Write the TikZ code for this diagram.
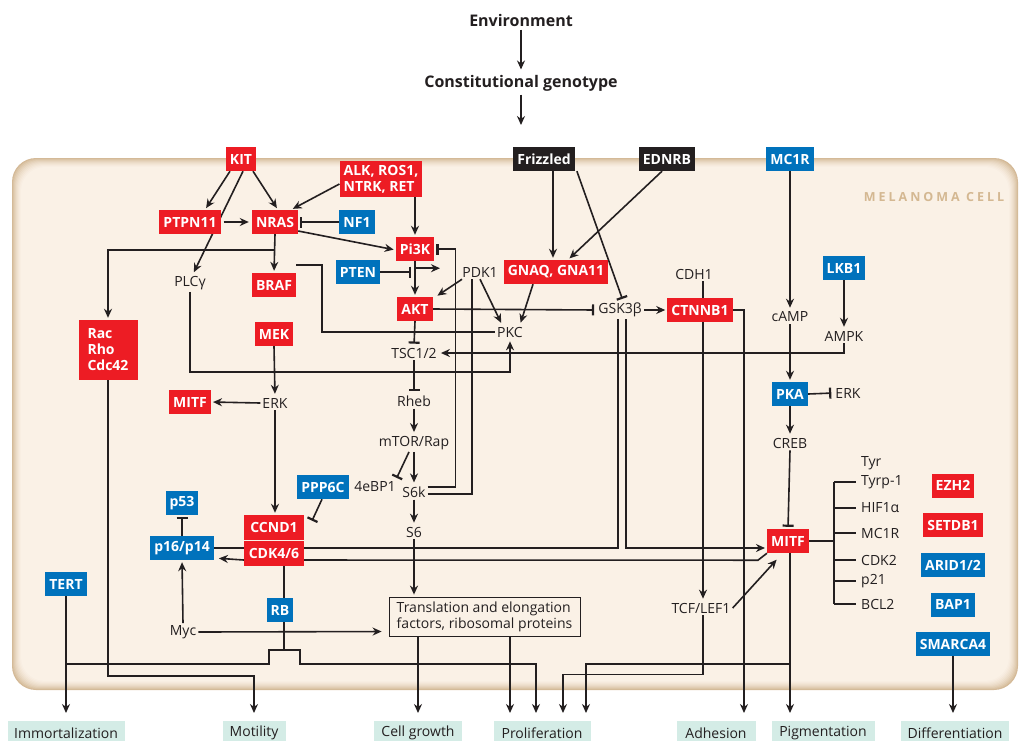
\documentclass[tikz,border=0pt]{standalone}
\usepackage{fontspec}
\setmainfont{Open Sans}
\newfontfamily\spacedfont[LetterSpace=24]{Open Sans}
\usepackage{tikz}
\usetikzlibrary{arrows.meta,positioning,calc,backgrounds}

\definecolor{genered}{RGB}{237,28,36}
\definecolor{geneblue}{RGB}{0,114,188}
\definecolor{geneblack}{RGB}{35,31,32}
\definecolor{inkgray}{RGB}{35,31,32}
\definecolor{cellbeige}{RGB}{250,241,230}
\definecolor{cellrim}{RGB}{212,186,152}
\definecolor{celltext}{RGB}{212,184,146}
\definecolor{outcome}{RGB}{212,236,230}

\begin{document}
\begin{tikzpicture}[x=1pt,y=-1pt,
  every node/.style={font=\fontsize{14}{16}\selectfont, text=inkgray},
  gene/.style={font=\bfseries\fontsize{14}{16}\selectfont, text=white, minimum height=24pt, inner xsep=4pt, inner ysep=2pt},
  redgene/.style={gene, fill=genered},
  bluegene/.style={gene, fill=geneblue},
  blackgene/.style={gene, fill=geneblack},
  plain/.style={inner sep=2pt},
  target/.style={plain, anchor=west},
  fate/.style={fill=outcome, minimum height=24pt, inner xsep=4pt, anchor=north},
  title/.style={font=\bfseries\fontsize{16}{19}\selectfont},
  link/.style={line width=1.6pt, draw=inkgray},
  arr/.style={link, -{Stealth[length=9pt,width=8pt]}, shorten >=2pt},
  inh/.style={link, -{Bar[width=11pt,line width=2.2pt]}, shorten >=2pt},
  tofate/.style={shorten >=8pt},
]
\useasboundingbox (0,0) rectangle (1021,740);

% top
\node[title] (env) at (521,20) {Environment};
\node[title] (geno) at (521,83) {Constitutional genotype};
\coordinate (cellentry) at (521,127);

% receptors and RAS / PI3K branch
\node[redgene] (kit) at (241,159) {KIT};
\node[redgene, align=left, minimum height=36pt] (alk) at (381,179) {ALK, ROS1,\\NTRK, RET};
\node[redgene] (ptpn) at (190,222) {PTPN11};
\node[redgene] (nras) at (275,222) {NRAS};
\node[bluegene] (nf1) at (357,222) {NF1};
\node[redgene] (pi3k) at (415,249) {Pi3K};
\node[bluegene] (pten) at (358,272) {PTEN};
\node[plain] (pdk1) at (480,272) {PDK1};
\node[redgene] (gnaq) at (556,272) {GNAQ, GNA11};
\node[plain] (plc) at (190,283) {PLCγ};
\node[redgene] (braf) at (274,285) {BRAF};
\node[redgene] (akt) at (415,309) {AKT};
\node[plain] (pkc) at (510,332) {PKC};
\node[plain] (gsk) at (620,310) {GSK3β};
\node[redgene] (ctnnb) at (700,310) {CTNNB1};
\node[plain] (cdh) at (694,274) {CDH1};
\node[redgene] (mek) at (274,334) {MEK};
\node[redgene, align=left, minimum width=59pt, minimum height=60pt] (rac) at (108,350) {Rac\\Rho\\Cdc42};
\node[plain] (tsc) at (414,353) {TSC1/2};
\node[redgene] (mitfl) at (190,402) {MITF};
\node[plain] (erkl) at (275,403) {ERK};
\node[plain] (rheb) at (414,401) {Rheb};
\node[plain] (mtor) at (414,443) {mTOR/Rap};
\node[plain] (ebp) at (375,487) {4eBP1};
\node[plain] (s6k) at (414,492) {S6k};
\node[plain] (s6) at (414,532) {S6};
\node[bluegene] (ppp) at (323,487) {PPP6C};
\node[bluegene] (p53) at (182,503) {p53};
\node[bluegene] (p16) at (182,548) {p16/p14};
\node[redgene, minimum width=60pt, minimum height=25pt] (ccnd) at (274,527.5) {CCND1};
\node[redgene, minimum width=60pt, minimum height=25pt] (cdk) at (274,553.5) {CDK4/6};
\node[bluegene] (tert) at (66,584) {TERT};
\node[bluegene] (rb) at (280,610) {RB};
\node[plain] (myc) at (183,632) {Myc};
\node[draw=inkgray, line width=0.8pt, align=left, minimum width=191pt, minimum height=39pt, inner sep=3pt] (trans) at (484.5,616.5) {Translation and elongation\\factors, ribosomal proteins};

% WNT / MC1R branch
\node[blackgene] (friz) at (544,159) {Frizzled};
\node[blackgene] (ednrb) at (667,159) {EDNRB};
\node[bluegene] (mc1r) at (790,159) {MC1R};
\node[bluegene] (lkb) at (844,268) {LKB1};
\node[plain] (camp) at (790,317) {cAMP};
\node[plain] (ampk) at (844,336) {AMPK};
\node[bluegene] (pka) at (790,394) {PKA};
\node[plain] (erkr) at (848,393) {ERK};
\node[plain] (creb) at (790,443) {CREB};
\node[redgene] (mitfr) at (788,541) {MITF};
\node[plain] (tcf) at (701,608) {TCF/LEF1};

% MITF targets
\node[target] (tyr) at (859,463) {Tyr};
\node[target] (tyrp) at (859,482) {Tyrp-1};
\node[target] (hif) at (859,508) {HIF1α};
\node[target] (mcr) at (859,533) {MC1R};
\node[target] (cdkt) at (859,560) {CDK2};
\node[target] (pt) at (859,581) {p21};
\node[target] (bcl) at (859,604) {BCL2};

% chromatin regulators
\node[redgene] (ezh) at (953,485.5) {EZH2};
\node[redgene] (setdb) at (953,525) {SETDB1};
\node[bluegene] (arid) at (953,565) {ARID1/2};
\node[bluegene] (bap) at (953,604.5) {BAP1};
\node[bluegene] (smarca) at (953,644) {SMARCA4};

\node[text=celltext, font=\spacedfont\bfseries\fontsize{12.5}{14}\selectfont] (celllabel) at (934,197) {MELANOMA CELL};

% outcomes
\node[fate, minimum width=117pt] (imm) at (66,721) {Immortalization};
\node[fate, minimum width=63pt] (mot) at (254,721) {Motility};
\node[fate, minimum width=88pt] (cg) at (418,721) {Cell growth};
\node[fate, minimum width=97pt] (prol) at (542,721) {Proliferation};
\node[fate, minimum width=79pt] (adh) at (716,721) {Adhesion};
\node[fate, minimum width=103pt] (pig) at (823,721) {Pigmentation};
\node[fate, minimum width=108pt] (diff) at (955,721) {Differentiation};

\begin{scope}[on background layer]
  % cell body with a soft rim
  \foreach \i/\c in {0/100,1/82,2/66,3/52,4/40,5/29,6/20,7/12,8/5,9/0}
    \fill[cellrim!\c!cellbeige, rounded corners=24pt] (12+\i,158+\i) rectangle (1018-\i,690-\i);

  \draw[arr] (env) -- (geno);
  \draw[arr] (geno) -- (cellentry);

  % KIT and RAS
  \draw[arr] ([xshift=-11pt]kit.south) -- ([xshift=15pt]ptpn.north);
  \draw[arr] ([xshift=12pt]kit.south) -- ([xshift=3pt]nras.north);
  \draw[arr] ([xshift=2pt]kit.south) -- ([xshift=3pt]plc.north);
  \draw[arr, shorten >=3pt, shorten <=3pt] (ptpn.east) -- (nras.west);
  \draw[arr] ([yshift=-5pt]alk.west) -- ([xshift=16pt]nras.north);
  \draw[inh] (nf1.west) -- (nras.east);
  \draw[arr] (nras.south) -- (braf.north);
  \draw[arr] ([yshift=-9pt]nras.east) -- ([yshift=-1pt]pi3k.west);
  \draw[arr] ([yshift=-16pt]nras.south) -| (rac.north);
  \draw[arr] (alk.south -| pi3k.north) -- (pi3k.north);

  % PI3K / AKT / mTOR
  \draw[inh] (pten.east) -- ++(33,0);
  \draw[arr] (pi3k.south) -- (akt.north);
  \draw[arr] ([yshift=-7pt]pi3k.south) -- ++(27,0);
  \draw[arr] ([xshift=-18pt]pdk1.south) -- ([xshift=3pt]akt.north east);
  \draw[arr] (pdk1.south) -- ([xshift=-8pt]pkc.north);
  \draw[arr] ([xshift=-23pt]gnaq.south) -- ([xshift=10pt]pkc.north);
  \coordinate (pdkfoot) at ([xshift=-8pt]pdk1.south);
  \draw[link] ([yshift=-2pt]s6k.east) -| (pdkfoot);
  \draw[inh] ([yshift=5pt]s6k.east) -| ([xshift=21pt]pi3k.east) -- (pi3k.east);
  \draw[inh] (akt.south) -- (tsc.north);
  \draw[inh] (akt.east) -- (gsk.west);
  \coordinate (brafhook) at ([xshift=22pt,yshift=8pt]braf.north);
  \draw[link] (brafhook) -- ++(26,0) |- (pkc.west);
  \draw[arr] (plc.south) -- ++(0,80) -| (pkc.south);
  \draw[arr] (ampk.south) |- (tsc.east);
  \draw[inh] (tsc.south) -- (rheb.north);
  \draw[arr] (rheb.south) -- (mtor.north);
  \draw[arr] (mtor.south) -- (s6k.north);
  \draw[inh] ([xshift=-5pt]mtor.south) -- ([xshift=-2pt]ebp.north east);
  \draw[arr] (s6k.south) -- (s6.north);
  \draw[arr] (s6.south) -- (s6.south |- trans.north);

  % MAPK and cell cycle
  \draw[arr] (mek.south) -- (erkl.north);
  \draw[arr] (erkl.west) -- (mitfl.east);
  \draw[arr] (erkl.south) -- (erkl.south |- ccnd.north);
  \draw[inh] ([xshift=-1pt]ppp.south) -- ([xshift=7pt,yshift=5pt]ccnd.east);
  \draw[inh] (p16.north) -- (p53.south);
  \draw[arr] (myc.north) -- (p16.south);
  \draw[link] ([xshift=10pt]cdk.south) -- ([xshift=4pt]rb.north);
  \draw[arr, shorten >=7pt] (myc.east) -- ([yshift=-15pt]trans.west);

  % GSK3B lines
  \draw[link] ([xshift=-2pt]gsk.south) |- (p16.east);
  \draw[arr] ([xshift=6pt]gsk.south) |- ([yshift=-7pt]mitfr.west);
  \draw[arr] (mitfr.south west) -- ++(-9,7) -- ([yshift=-6.5pt]cdk.west) -- ([xshift=3pt,yshift=2pt]p16.south east);

  % WNT
  \draw[arr] ([xshift=9pt]friz.south) -- ([xshift=-3pt]gnaq.north);
  \draw[inh] ([xshift=2pt]friz.south east) -- ([xshift=3pt]gsk.north);
  \draw[arr] ([xshift=-5pt]ednrb.south) -- ([xshift=12pt]gnaq.north);
  \draw[arr] (gsk.east) -- (ctnnb.west);
  \draw[arr] ([xshift=9pt]cdh.south) -- ([xshift=9pt]cdh.south |- tcf.north);
  \draw[arr, tofate] (ctnnb.east) -| ([xshift=28pt]adh.north);
  \draw[arr] (tcf.east) -- ([xshift=-10pt,yshift=-5pt]mitfr.south);
  \draw[arr, tofate] ([xshift=2pt]tcf.south) -- ++(0,59) -| ([xshift=21pt]prol.north);

  % MC1R
  \draw[arr] (mc1r.south) -- (camp.north);
  \draw[arr] (camp.south) -- (pka.north);
  \draw[arr] (lkb.south) -- (ampk.north);
  \draw[inh] (pka.east) -- (erkr.west);
  \draw[arr] (pka.south) -- (creb.north);
  \draw[inh] (creb.south) -- (mitfr.north);

  % MITF outputs
  \draw[arr, tofate] ([xshift=2pt]mitfr.south) -- ([xshift=2pt]mitfr.south |- pig.north);
  \draw[arr, tofate] ([xshift=2pt,yshift=-111pt]mitfr.south) -| ([xshift=44pt]prol.north);
  \draw[link] (mitfr.east) -- ++(25,0) coordinate (fork);
  \draw[link] (fork |- tyrp.west) -- (fork |- bcl.west);
  \foreach \t in {tyrp,hif,mcr,cdkt,pt,bcl}
    \draw[link] (fork |- \t.west) -- ([xshift=-3pt]\t.west);
  \draw[arr, tofate] (smarca.south) -- (smarca.south |- diff.north);

  % outputs on the left
  \draw[arr, tofate] (rac.south) -- ++(0,296) -| (mot.north);
  \draw[arr, tofate] (tert.south) -- (imm.north);
  \draw[link] ([xshift=4pt]rb.south) -- ++(0,28) coordinate (rbjoin);
  \draw[arr, tofate] (tert.south |- 0,664) -| ([xshift=-15pt]rbjoin) -| ([xshift=16pt,yshift=-14pt]rbjoin) -| ([xshift=-6pt]prol.north);
  \draw[arr, tofate] (cg.north |- trans.south) -- (cg.north);
  \draw[arr, tofate] ([xshift=-32pt]prol.north |- trans.south) -- ([xshift=-32pt]prol.north);
\end{scope}
\end{tikzpicture}
\end{document}
